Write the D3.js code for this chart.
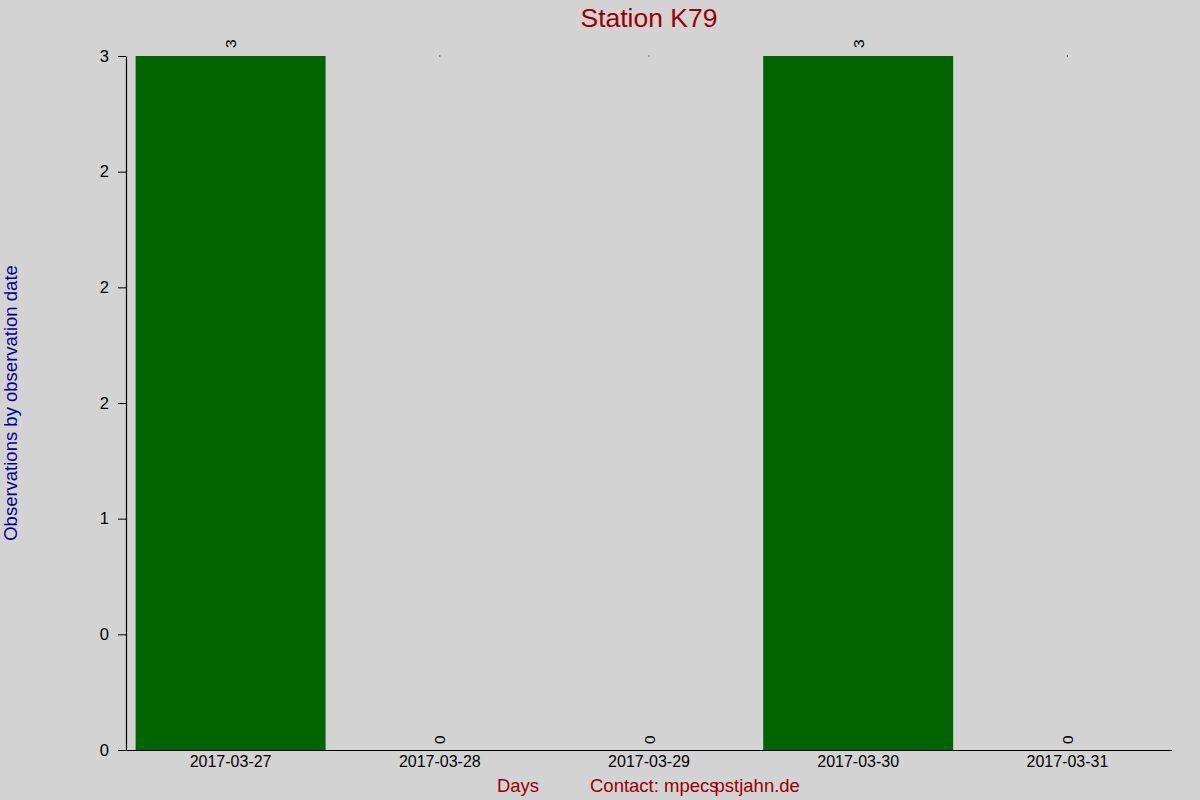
<!DOCTYPE html>
<html>
<head>
<meta charset="utf-8">
<script src="https://cdn.jsdelivr.net/npm/d3@7"></script>
<style>
  body { margin: 0; background: #d3d3d3; }
  svg { display: block; font-family: "Liberation Sans", Arial, sans-serif; }
</style>
</head>
<body>
<script>
const days = ["2017-03-27", "2017-03-28", "2017-03-29", "2017-03-30", "2017-03-31"]
const counts = [3, 0, 0, 3, 0]
const yTicks = [0, 0.5, 1, 1.5, 2, 2.5, 3]
const yTickLabels = ["0", "0", "1", "2", "2", "2", "3"]

const width = 1200
const height = 800
const margin = { top: 56, right: 28, bottom: 50, left: 126 }

const svg = d3.select('body')
    .append('svg')
    .attr('width', width)
    .attr('height', height)

svg.append('rect')
    .attr('width', width)
    .attr('height', height)
    .attr('fill', '#d3d3d3')

// scales
const x = d3.scaleBand()
    .domain(days)
    .range([margin.left, width - margin.right])
    .paddingInner(0.092)
    .paddingOuter(0.046)

const y = d3.scaleLinear()
    .domain([0, 3])
    .range([height - margin.bottom, margin.top])

// bars
svg.selectAll('.bar')
    .data(counts)
    .join('rect')
    .attr('class', 'bar')
    .attr('x', (d, i) => x(days[i]))
    .attr('y', d => y(d))
    .attr('width', x.bandwidth())
    .attr('height', d => y(0) - y(d))
    .attr('fill', '#006400')

// little dots at the top for empty days
svg.selectAll('.dot')
    .data(counts.map((d, i) => ({ d, day: days[i] })).filter(o => o.d === 0))
    .join('rect')
    .attr('class', 'dot')
    .attr('x', o => x(o.day) + x.bandwidth() / 2 - 0.5)
    .attr('y', y(3) - 0.5)
    .attr('width', 1)
    .attr('height', 1)
    .attr('fill', '#000')

// value labels, rotated
svg.selectAll('.val')
    .data(counts)
    .join('text')
    .attr('class', 'val')
    .attr('transform', (d, i) => `translate(${x(days[i]) + x.bandwidth() / 2},${y(d) - (d > 0 ? 8 : 6)}) rotate(-90)`)
    .attr('dominant-baseline', 'central')
    .attr('font-size', 15.5)
    .attr('fill', '#000')
    .text(d => d)

// y axis
const yAxis = svg.append('g')
    .attr('transform', `translate(${margin.left},0)`)
    .call(d3.axisLeft(y)
        .tickValues(yTicks)
        .tickFormat((d, i) => yTickLabels[i])
        .tickSize(8)
        .tickSizeOuter(0)
        .tickPadding(9))
yAxis.selectAll('text').attr('font-size', 16.5).attr('fill', '#000').attr('font-family', null)
yAxis.select('.domain').attr('stroke-width', 1.2)

// x axis
const xAxis = svg.append('g')
    .attr('transform', `translate(0,${y(0)})`)
    .call(d3.axisBottom(x).tickSize(0).tickPadding(6))
xAxis.select('.domain').remove()
xAxis.selectAll('text').attr('font-size', 16).attr('fill', '#000').attr('font-family', null)
svg.append('line')
    .attr('x1', margin.left - 8)
    .attr('x2', width - margin.right)
    .attr('y1', y(0) + 0.5)
    .attr('y2', y(0) + 0.5)
    .attr('stroke', '#000')
    .attr('stroke-width', 1.2)

// titles
svg.append('text')
    .attr('x', 649)
    .attr('y', 27)
    .attr('text-anchor', 'middle')
    .attr('font-size', 26.5)
    .attr('fill', '#990000')
    .text('Station K79')

svg.append('text')
    .attr('x', 518)
    .attr('y', 792)
    .attr('text-anchor', 'middle')
    .attr('font-size', 18.5)
    .attr('fill', '#990000')
    .text('Days')

const contact = svg.append('text')
    .attr('x', 590)
    .attr('y', 792)
    .attr('font-size', 18.5)
    .attr('fill', '#990000')
contact.append('tspan').text('Contact: mpecs')
contact.append('tspan').attr('dx', -4).text('pstjahn.de')

svg.append('text')
    .attr('transform', `translate(17,${(margin.top + y(0)) / 2}) rotate(-90)`)
    .attr('text-anchor', 'middle')
    .attr('font-size', 18.5)
    .attr('fill', '#00008b')
    .text('Observations by observation date')
</script>
</body>
</html>
